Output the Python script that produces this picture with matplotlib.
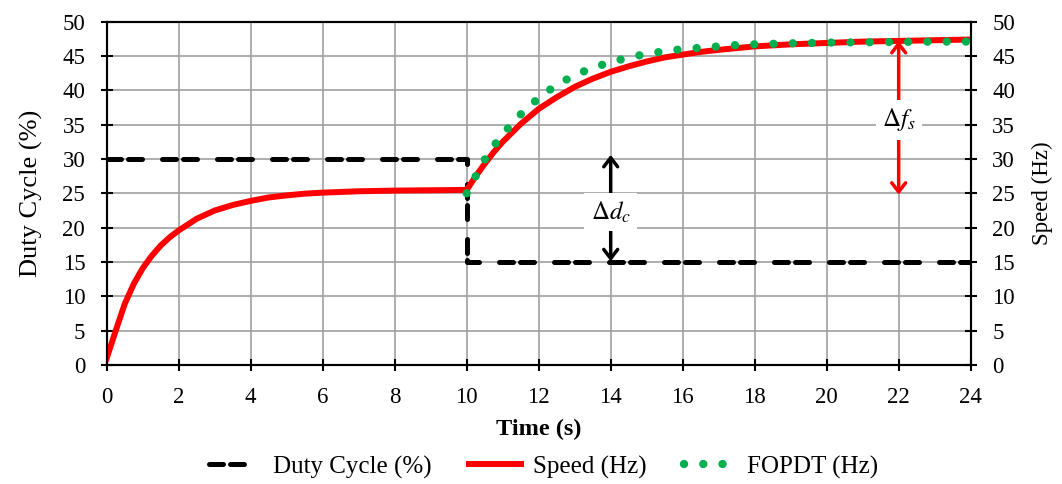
import matplotlib
matplotlib.use('Agg')
import matplotlib.pyplot as plt

plt.rcParams['font.family'] = ['Liberation Serif', 'DejaVu Serif']
plt.rcParams['mathtext.fontset'] = 'stix'

# ---------------- data ----------------
duty_t = [0, 10, 10, 24]
duty = [30, 30, 15, 15]

speed_t = [0, 0.25, 0.5, 0.75, 1.0, 1.25, 1.5, 1.75, 2.0, 2.5, 3.0, 3.5, 4.0,
           4.5, 5.0, 5.5, 6.0, 7.0, 8.0, 9.0, 10.0,
           10.25, 10.5, 10.75, 11.0, 11.5, 12.0, 12.5, 13.0, 13.5, 14.0, 14.5,
           15.0, 15.5, 16.0, 16.5, 17.0, 18.0, 19.0, 20.0, 21.0, 22.0, 23.0, 24.0]
speed = [1.0, 5.0, 8.9, 11.8, 14.1, 15.9, 17.4, 18.6, 19.6, 21.3, 22.5, 23.3, 23.9,
         24.4, 24.7, 24.95, 25.1, 25.3, 25.4, 25.45, 25.5,
         27.5, 29.3, 31.0, 32.5, 35.1, 37.3, 39.0, 40.5, 41.7, 42.7, 43.5,
         44.2, 44.8, 45.2, 45.6, 45.9, 46.4, 46.7, 46.9, 47.1, 47.2, 47.3, 47.4]

fopdt_t = [10, 10.25, 10.5, 10.75, 11, 11.25, 11.5, 11.75, 12, 12.5, 13, 13.5,
           14, 14.5, 15, 15.5, 16, 16.5, 17, 17.5, 18, 19, 20, 21, 22, 23, 24]
fopdt = [25.0, 27.5, 29.9, 31.9, 33.6, 35.1, 36.5, 37.7, 38.9, 40.8, 42.2, 43.3,
         44.1, 44.8, 45.3, 45.7, 46.0, 46.2, 46.4, 46.6, 46.7, 46.85, 46.95, 47.0,
         47.05, 47.1, 47.1]

x_ticks = list(range(0, 25, 2))
y_ticks = list(range(0, 51, 5))

# ---------------- figure ----------------
fig = plt.figure(figsize=(10.62, 4.84), dpi=100)
ax = fig.add_axes([0.1005, 0.2459, 0.8135, 0.7093])
ax.set_xlim(0, 24)
ax.set_ylim(0, 50)
ax.set_xticks(x_ticks)
ax.set_yticks(y_ticks)
ax.grid(True, color='#a0a0a0', lw=1.2)
ax.set_axisbelow(True)
for s in ax.spines.values():
    s.set_linewidth(1.5)
ax.tick_params(direction='inout', length=9, width=1.5, labelsize=16.5, pad=11)

l1, = ax.plot(duty_t, duty, color='black', lw=3.6, solid_capstyle='round',
              dash_capstyle='round', linestyle=(0, (2.8, 1.4, 2.8, 4.0)),
              label='Duty Cycle (%)', zorder=3)
l2, = ax.plot(speed_t, speed, color='#ff0000', lw=4.3, label='Speed (Hz)', zorder=4)
l3, = ax.plot(fopdt_t, fopdt, color='#00b050', lw=6.0, dash_capstyle='round',
              linestyle=(0, (0.01, 2.3)), label='FOPDT (Hz)', zorder=5)

# annotations
ax.annotate('', xy=(14, 30.6), xytext=(14, 15.1),
            arrowprops=dict(arrowstyle='<->,head_length=0.65,head_width=0.5',
                            lw=2.5, color='black', shrinkA=0, shrinkB=0), zorder=6)
ax.text(14, 22.3, r'$\mathit{\Delta d_c}$', fontsize=18, ha='center', va='center',
        bbox=dict(boxstyle='square,pad=0.25', fc='white', ec='none'), zorder=7)

ax.annotate('', xy=(22, 47.2), xytext=(22, 24.8),
            arrowprops=dict(arrowstyle='<->,head_length=0.65,head_width=0.5',
                            lw=2.5, color='#ff0000', shrinkA=0, shrinkB=0), zorder=6)
ax.text(22, 35.7, r'$\mathit{\Delta f_s}$', fontsize=18, ha='center', va='center',
        bbox=dict(boxstyle='square,pad=0.25', fc='white', ec='none'), zorder=7)

ax.set_xlabel('Time (s)', fontsize=17.5, fontweight='bold', labelpad=8)
ax.set_ylabel('Duty Cycle (%)', fontsize=19, labelpad=14)

ax2 = ax.twinx()
ax2.set_ylim(0, 50)
ax2.set_yticks(y_ticks)
ax2.tick_params(direction='inout', length=9, width=1.5, labelsize=16.5, pad=11)
for s in ax2.spines.values():
    s.set_linewidth(1.5)
ax2.set_ylabel('Speed (Hz)', fontsize=16.5, labelpad=12)

fig.legend(handles=[l1, l2, l3], loc='center', bbox_to_anchor=(0.512, 0.035),
           ncol=3, frameon=False, fontsize=18, handlelength=2.1,
           handletextpad=0.45, columnspacing=1.5)

fig.savefig('out.png', dpi=100)
